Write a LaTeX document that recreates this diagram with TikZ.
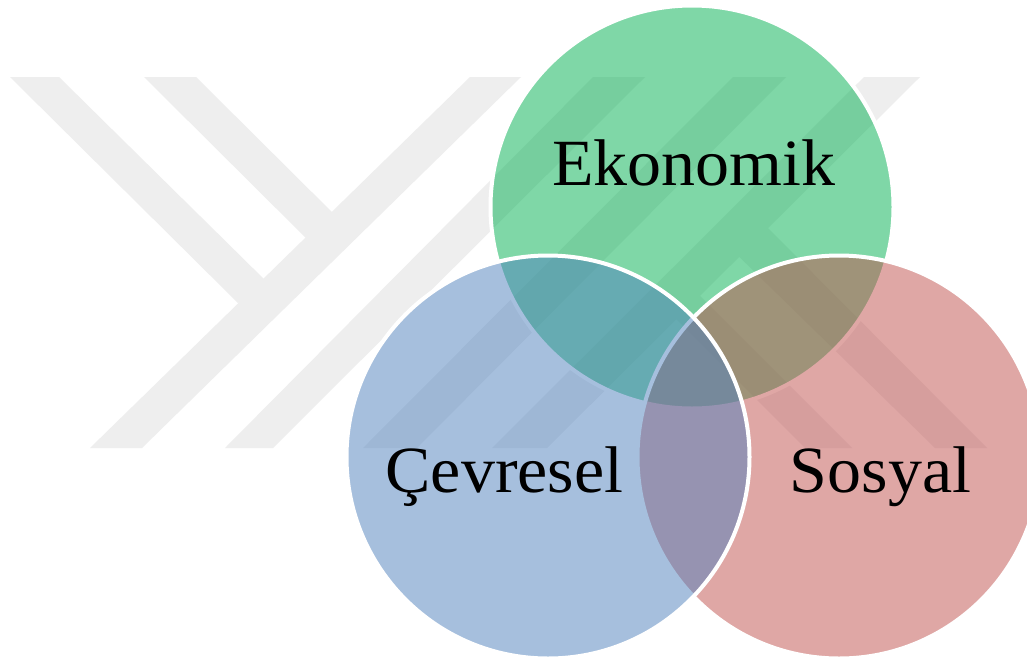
\documentclass[tikz,border=0pt]{standalone}
\usepackage{fontspec}
\setmainfont[FakeStretch=1.03]{Liberation Serif}
\definecolor{wmgray}{RGB}{238,238,238}
\definecolor{ecoGreen}{RGB}{0,176,80}
\definecolor{socRed}{RGB}{192,80,77}
\definecolor{envBlue}{RGB}{79,129,189}
\tikzset{
  band/.style={fill=wmgray, draw=none},
  venn/.style={circle, minimum size=403pt, inner sep=0pt, outer sep=0pt,
               draw=white, line width=4pt, fill opacity=0.5, draw opacity=1},
  lbl/.style={font=\fontsize{66}{72}\selectfont, text=black, inner sep=0pt, anchor=base}
}
\begin{document}
\begin{tikzpicture}[x=1pt,y=-1pt]
\useasboundingbox (0,0) rectangle (1027,659);
\clip (0,0) rectangle (1027,659);
\fill[white] (0,0) rectangle (1027,659);

% background emblem: four rising diagonals with short arms
\fill[band] (90,448) -- (142,448) -- (521,77) -- (470,77) -- cycle;
\fill[band] (225,448) -- (273,448) -- (645,77) -- (593,77) -- cycle;
\fill[band] (363,448) -- (417,448) -- (786,77) -- (733,77) -- cycle;
\fill[band] (492,448) -- (547,448) -- (920,77) -- (864,77) -- cycle;
% arms joining the outer diagonals
\fill[band] (10,77) -- (59,77) -- (270,285) -- (238,303) -- cycle;
\fill[band] (144,77) -- (196,77) -- (350,230) -- (320,252) -- cycle;
\fill[band] (805,448) -- (852,448) -- (682,278) -- (665,308) -- cycle;
\fill[band] (935,448) -- (987,448) -- (753,213) -- (725,243) -- cycle;

% the three overlapping sets
\node[venn, fill=ecoGreen] (eco) at (692,207) {};
\node[venn, fill=socRed]   (soc) at (839,457) {};
\node[venn, fill=envBlue]  (env) at (548,457) {};

% set labels
\node[lbl] (ecoText) at (694,185.5) {Ekonomik};
\node[lbl] (envText) at (504.5,492) {Çevresel};
\node[lbl] (socText) at (880.5,492) {Sosyal};
\end{tikzpicture}
\end{document}
